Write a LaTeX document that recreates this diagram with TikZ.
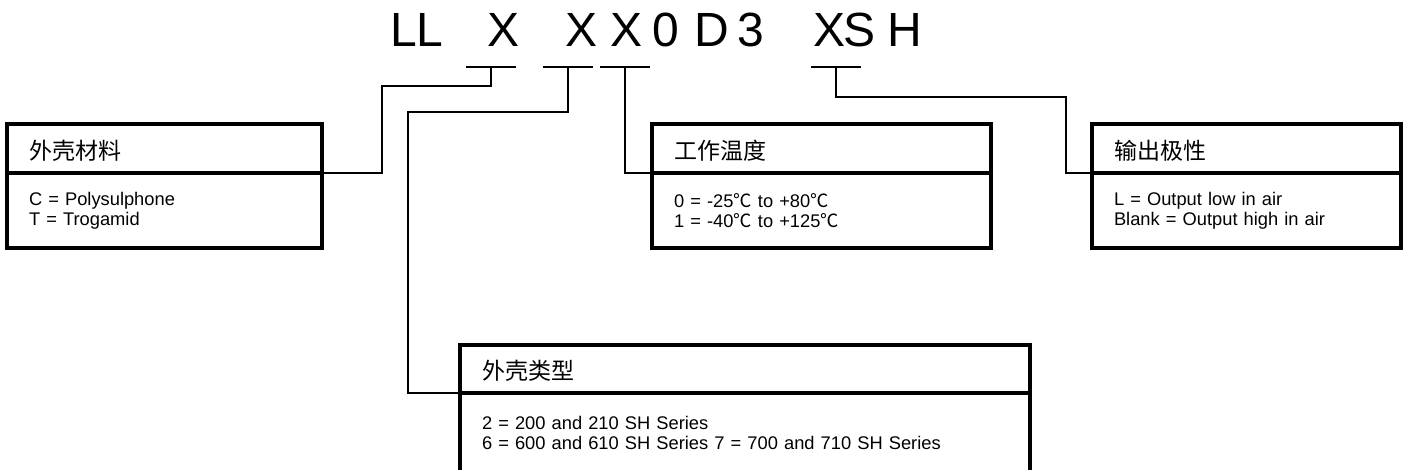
\documentclass[tikz,border=0pt]{standalone}
\usepackage{fontspec}
\setmainfont{Liberation Sans}
\newfontfamily\cjk{Noto Sans CJK SC}
\usepackage{tikz}
\usetikzlibrary{positioning}
\newcommand{\degc}{{\cjk ℃}}
\tikzstyle{head} = [rectangle, draw=black, line width=3.2pt, outer sep=0pt, inner xsep=22pt,
    minimum height=49pt, text height=24pt, text depth=2pt, align=left,
    font=\cjk\fontsize{23}{27}\selectfont]
\tikzstyle{body} = [rectangle, draw=black, line width=3.2pt, outer sep=0pt, inner xsep=22pt,
    minimum height=75pt, align=left, font=\fontsize{18.3}{20}\selectfont]
\tikzstyle{code} = [anchor=base, inner sep=0pt, font=\fontsize{48}{58}\selectfont]
\tikzstyle{tick} = [line width=2.8pt]
\tikzstyle{lead} = [line width=2.8pt]

\begin{document}
\begin{tikzpicture}[x=1pt, y=-1pt]
\useasboundingbox (0,0) rectangle (1406,470);
\node[code] (ll) at (417,47) {LL};
\node[code] (x1) at (504,47) {X};
\node[code] (x2) at (582,47) {X};
\node[code] (x3) at (627,47) {X};
\node[code] (n0) at (666,47) {0};
\node[code] (d) at (712,47) {D};
\node[code] (n3) at (751,47) {3};
\node[code] (x4) at (829,47) {X};
\node[code] (s) at (859,47) {S};
\node[code] (h) at (905,47) {H};

\node[head, text width=271pt, anchor=north west] (h1) at (7,124) {外壳材料};
\node[body, text width=271pt, below=0pt of h1] (b1) {C = Polysulphone\\T = Trogamid};
\node[head, text width=295pt, anchor=north west] (h2) at (652,124) {工作温度};
\node[body, text width=295pt, below=0pt of h2] (b2) {0 = -25\degc{} to +80\degc\\1 = -40\degc{} to +125\degc};
\node[head, text width=265pt, anchor=north west] (h3) at (1092,124) {输出极性};
\node[body, text width=265pt, below=0pt of h3] (b3) {L = Output low in air\\Blank = Output high in air};
\node[head, text width=526pt, minimum height=48pt, anchor=north west] (h4) at (460,345) {外壳类型};
\node[body, text width=526pt, minimum height=80pt, below=0pt of h4] (b4) {2 = 200 and 210 SH Series\\6 = 600 and 610 SH Series 7 = 700 and 710 SH Series};

\coordinate (t1) at (491,67);
\coordinate (t2) at (568,67);
\coordinate (t3) at (625,67);
\coordinate (t4) at (836,67);
\draw[tick] ([xshift=-25pt]t1) -- ([xshift=25pt]t1);
\draw[tick] ([xshift=-25pt]t2) -- ([xshift=25pt]t2);
\draw[tick] ([xshift=-25pt]t3) -- ([xshift=25pt]t3);
\draw[tick] ([xshift=-25pt]t4) -- ([xshift=25pt]t4);
\draw[lead] (t1) |- (382,86) |- (h1.south east);
\draw[lead] (t2) |- (408,112) |- (h4.south west);
\draw[lead] (t3) |- (h2.south west);
\draw[lead] (t4) |- (1066,97) |- (h3.south west);
\end{tikzpicture}
\end{document}
